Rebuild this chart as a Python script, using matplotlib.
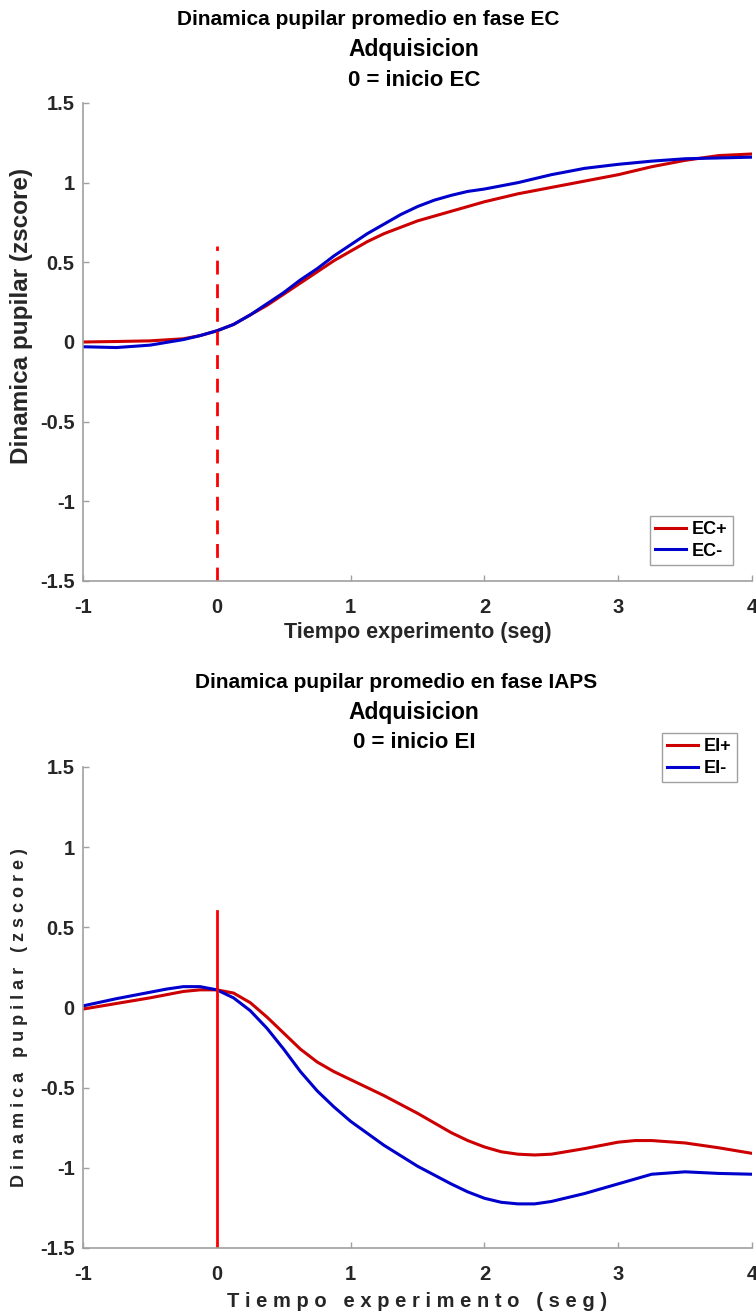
import matplotlib
matplotlib.use('Agg')
import matplotlib.pyplot as plt

plt.rcParams['font.family'] = ['Liberation Sans', 'DejaVu Sans']
plt.rcParams['font.weight'] = 'bold'
plt.rcParams['axes.unicode_minus'] = False

# ---- datos ----
t_ec = [-1, -0.75, -0.5, -0.25, -0.125, 0, 0.125, 0.25, 0.375, 0.5, 0.625, 0.75, 0.875,
        1.0, 1.125, 1.25, 1.375, 1.5, 1.625, 1.75, 1.875, 2.0, 2.25, 2.5, 2.75, 3.0,
        3.25, 3.5, 3.75, 4.0]
ec_pos = [0.000, 0.003, 0.007, 0.02, 0.04, 0.07, 0.11, 0.17, 0.23, 0.30, 0.37, 0.44, 0.51,
          0.57, 0.63, 0.68, 0.72, 0.76, 0.79, 0.82, 0.85, 0.88, 0.93, 0.97, 1.01, 1.05,
          1.10, 1.14, 1.17, 1.18]
ec_neg = [-0.03, -0.035, -0.02, 0.015, 0.04, 0.07, 0.11, 0.17, 0.24, 0.31, 0.39, 0.46, 0.54,
          0.61, 0.68, 0.74, 0.80, 0.85, 0.89, 0.92, 0.945, 0.96, 1.00, 1.05, 1.09, 1.115,
          1.135, 1.15, 1.155, 1.16]

t_ei = [-1, -0.75, -0.5, -0.375, -0.25, -0.125, 0, 0.125, 0.25, 0.375, 0.5, 0.625, 0.75,
        0.875, 1.0, 1.25, 1.5, 1.75, 1.875, 2.0, 2.125, 2.25, 2.375, 2.5, 2.75, 3.0,
        3.125, 3.25, 3.5, 3.75, 4.0]
ei_pos = [-0.01, 0.025, 0.06, 0.08, 0.10, 0.11, 0.11, 0.09, 0.03, -0.06, -0.16, -0.26, -0.34,
          -0.40, -0.45, -0.55, -0.66, -0.78, -0.83, -0.87, -0.90, -0.915, -0.92, -0.915,
          -0.88, -0.84, -0.83, -0.83, -0.845, -0.875, -0.91]
ei_neg = [0.01, 0.055, 0.095, 0.115, 0.13, 0.13, 0.11, 0.06, -0.02, -0.13, -0.26, -0.40,
          -0.52, -0.62, -0.71, -0.86, -0.99, -1.10, -1.15, -1.19, -1.215, -1.225, -1.225,
          -1.21, -1.16, -1.10, -1.07, -1.04, -1.025, -1.035, -1.04]

marca_x = 0
marca_y = [-1.5, 0.6]

xticks = [-1, 0, 1, 2, 3, 4]
xtick_labels = ['-1', '0', '1', '2', '3', '4']
yticks = [-1.5, -1, -0.5, 0, 0.5, 1, 1.5]
ytick_labels = ['-1.5', '-1', '-0.5', '0', '0.5', '1', '1.5']

ROJO = '#cc0000'
AZUL = '#0000cc'
GRIS = '#a0a0a0'
TEXTO = '#262626'


def formato_ejes(ax):
    ax.set_xlim(-1, 4)
    ax.set_ylim(-1.5, 1.5)
    ax.set_xticks(xticks)
    ax.set_xticklabels(xtick_labels)
    ax.set_yticks(yticks)
    ax.set_yticklabels(ytick_labels)
    for s in ['top', 'right']:
        ax.spines[s].set_visible(False)
    for s in ['left', 'bottom']:
        ax.spines[s].set_color(GRIS)
        ax.spines[s].set_linewidth(1.2)
    ax.tick_params(direction='in', length=4, width=1, color=GRIS,
                   labelcolor=TEXTO, labelsize=14.5)
    ax.tick_params(axis='x', pad=12)
    ax.tick_params(axis='y', pad=6)
    for lab in ax.get_xticklabels() + ax.get_yticklabels():
        lab.set_fontweight('bold')


def leyenda(ax, loc, anchor):
    leg = ax.legend(loc=loc, bbox_to_anchor=anchor, borderaxespad=0, fontsize=13,
                    handlelength=1.7, handletextpad=0.35, borderpad=0.3,
                    labelspacing=0.25, fancybox=False, edgecolor=GRIS, framealpha=1)
    leg.get_frame().set_linewidth(1)
    for tx in leg.get_texts():
        tx.set_fontweight('bold')
    return leg


def titulo(ax, lineas, xs, ys, tamanos):
    for texto, x, y, fs in zip(lineas, xs, ys, tamanos):
        ax.text(x, y, texto, transform=ax.transAxes, ha='center', va='center',
                fontsize=fs, fontweight='bold', color='black')


fig = plt.figure(figsize=(7.56, 13.12), dpi=100)
ax1 = fig.add_axes([0.1098, 0.5572, 0.885, 0.3643])
ax2 = fig.add_axes([0.1098, 0.0488, 0.885, 0.3666])

# ---- fase EC ----
ax1.plot(t_ec, ec_pos, color=ROJO, lw=2.2, label='EC+')
ax1.plot(t_ec, ec_neg, color=AZUL, lw=2.2, label='EC-')
ax1.plot([marca_x, marca_x], marca_y, color='#ff0000', lw=2, ls=(0, (5, 3.5)))
formato_ejes(ax1)
ax1.set_xlabel('Tiempo experimento (seg)', fontsize=15.5, fontweight='bold',
               color=TEXTO, labelpad=4)
ax1.set_ylabel('Dinamica pupilar (zscore)', fontsize=17.5, fontweight='bold',
               color=TEXTO)
ax1.yaxis.set_label_coords(-0.074, 0.555)
titulo(ax1, ['Dinamica pupilar promedio en fase EC', 'Adquisicion', '0 = inicio EC'],
       [0.426, 0.495, 0.495], [1.174, 1.112, 1.047], [15, 16.5, 16])
leyenda(ax1, 'lower right', (0.9716, 0.0335))

# ---- fase IAPS ----
ax2.plot(t_ei, ei_pos, color=ROJO, lw=2.2, label='EI+')
ax2.plot(t_ei, ei_neg, color=AZUL, lw=2.2, label='EI-')
ax2.plot([marca_x, marca_x], marca_y, color='#ff0000', lw=2)
formato_ejes(ax2)
ax2.set_xlabel('T i e m p o   e x p e r i m e n t o   ( s e g )', fontsize=14.5,
               fontweight='bold', color=TEXTO, labelpad=6)
ax2.set_ylabel('D i n a m i c a   p u p i l a r   ( z s c o r e )', fontsize=13,
               fontweight='bold', color=TEXTO)
ax2.yaxis.set_label_coords(-0.082, 0.48)
titulo(ax2, ['Dinamica pupilar promedio en fase IAPS', 'Adquisicion', '0 = inicio EI'],
       [0.468, 0.495, 0.495], [1.176, 1.113, 1.051], [15, 16.5, 16])
leyenda(ax2, 'upper right', (0.9776, 1.0707))

fig.savefig('out.png', dpi=100, facecolor='white')
